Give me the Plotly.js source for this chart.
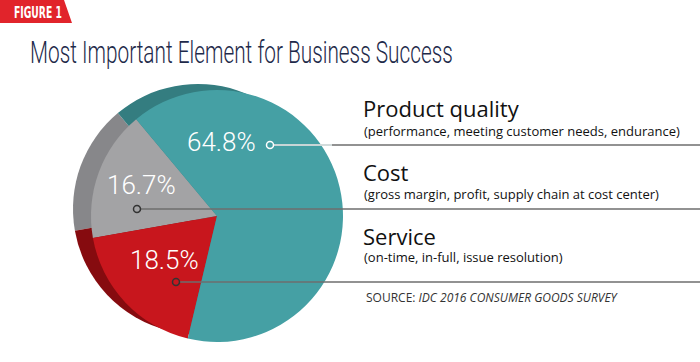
<!DOCTYPE html>
<html>
<head>
<meta charset="utf-8">
<script src="https://cdn.plot.ly/plotly-3.0.1.min.js"></script>
<style>html,body{margin:0;padding:0;background:#fff;}#chart{width:700px;height:362px;}</style>
</head>
<body>
<div id="chart"></div>
<script>
// ---- data ----
const categories = ['Cost', 'Service', 'Product quality'];
const shares = [16.7, 18.5, 64.8];
const descriptions = [
  '(gross margin, profit, supply chain at cost center)',
  '(on-time, in-full, issue resolution)',
  '(performance, meeting customer needs, endurance)'
];
const faceColors = ['#a3a3a5', '#c8161d', '#45a0a4'];
const sideColors = ['#87878a', '#860b0f', '#347d80'];
const titleText = 'Most Important Element for Business Success';
const sourceLabel = 'SOURCE: ';
const sourceText = 'IDC 2016 CONSUMER GOODS SURVEY';
const figureTag = 'FIGURE 1';

// ---- helpers (pixel -> paper) ----
const W = 700, H = 362;
const px = x => x / W;
const py = y => 1 - y / H;

function pieDomain(cx, cy, r) {
  return { x: [px(cx - r), px(cx + r)], y: [py(cy + r), py(cy - r)] };
}

const common = {
  type: 'pie', labels: categories, values: shares, sort: false,
  direction: 'counterclockwise', rotation: -100, textinfo: 'none',
  hoverinfo: 'label+percent', showlegend: false
};

const backPie = Object.assign({}, common, {
  marker: { colors: sideColors, line: { width: 0 } },
  domain: pieDomain(198, 209, 125)
});
const frontPie = Object.assign({}, common, {
  marker: { colors: faceColors, line: { width: 0 } },
  domain: pieDomain(217, 216, 126)
});

// label positions (layout only)
const pctPos = { 'Product quality': [221, 142], 'Cost': [141, 185], 'Service': [164, 260] };
const dotPos = { 'Product quality': [270, 145], 'Cost': [137, 209], 'Service': [176, 282] };
const rightTitleY = { 'Product quality': 108, 'Cost': 172, 'Service': 236 };
const rightDescY = { 'Product quality': 131, 'Cost': 194, 'Service': 257 };
const dotStyle = { 'Product quality': ['#ffffff', '#45a0a4'], 'Cost': ['#333333', '#a3a3a5'], 'Service': ['#333333', '#c8161d'] };

const annotations = [];
const shapes = [];

// figure tag
shapes.push({ type: 'path', xref: 'paper', yref: 'paper',
  path: `M ${px(0)} ${py(0)} L ${px(64)} ${py(0)} L ${px(72)} ${py(23)} L ${px(0)} ${py(23)} Z`,
  fillcolor: '#e1242b', line: { width: 0 }, layer: 'below' });
annotations.push({ text: '<b>' + figureTag + '</b>', x: px(12), y: py(13), xref: 'paper', yref: 'paper',
  xanchor: 'left', yanchor: 'middle', showarrow: false,
  font: { family: 'DejaVu Sans', size: 16, color: '#ffffff' } });

categories.forEach((c, i) => {
  const pct = shares[i].toFixed(1) + '%';
  const [tx, ty] = pctPos[c];
  annotations.push({ text: pct, x: px(tx), y: py(ty), xref: 'paper', yref: 'paper',
    xanchor: 'center', yanchor: 'middle', showarrow: false,
    font: { family: 'Roboto', size: 26, color: '#ffffff', weight: 300 } });
  const [dx, dy] = dotPos[c];
  shapes.push({ type: 'line', xref: 'paper', yref: 'paper', x0: px(dx), x1: px(700), y0: py(dy), y1: py(dy),
    line: { color: '#6e6e6e', width: 1.5 } });
  if (c === 'Product quality') {
    shapes.push({ type: 'line', xref: 'paper', yref: 'paper', x0: px(dx), x1: px(332), y0: py(dy), y1: py(dy),
      line: { color: '#e8f4f4', width: 1.5 } });
  }
  const [stroke, fill] = dotStyle[c];
  shapes.push({ type: 'circle', xref: 'paper', yref: 'paper', x0: px(dx - 3.5), x1: px(dx + 3.5), y0: py(dy - 3.5), y1: py(dy + 3.5),
    line: { color: stroke, width: 1.5 }, fillcolor: fill });
  annotations.push({ text: c, x: px(361), y: py(rightTitleY[c]), xref: 'paper', yref: 'paper',
    xanchor: 'left', yanchor: 'middle', showarrow: false,
    font: { family: 'Open Sans', size: 22, color: '#111111' } });
  annotations.push({ text: descriptions[i], x: px(362), y: py(rightDescY[c]), xref: 'paper', yref: 'paper',
    xanchor: 'left', yanchor: 'middle', showarrow: false,
    font: { family: 'Open Sans', size: 13, color: '#111111' } });
});

annotations.push({ text: sourceLabel + '<i>' + sourceText + '</i>', x: px(364), y: py(297), xref: 'paper', yref: 'paper',
  xanchor: 'left', yanchor: 'middle', showarrow: false,
  font: { family: 'Open Sans', size: 12, color: '#333333' } });

const layout = {
  width: W, height: H, margin: { l: 0, r: 0, t: 0, b: 0 },
  paper_bgcolor: '#ffffff', plot_bgcolor: '#ffffff',
  title: { text: titleText, x: px(30), xanchor: 'left', xref: 'paper', y: py(52), yref: 'paper', yanchor: 'middle',
    font: { family: 'Roboto', size: 31, color: '#1e2a4a', weight: 300 } },
  shapes: shapes, annotations: annotations
};

// condense a text element horizontally to a target width, keeping its left edge
function condense(el, targetWidth) {
  if (!el) return;
  const bb = el.getBBox();
  if (!bb.width) return;
  const s = targetWidth / bb.width;
  const prev = el.getAttribute('transform') || '';
  el.setAttribute('transform', prev + ` translate(${bb.x},0) scale(${s},1) translate(${-bb.x},0)`);
}

Plotly.newPlot('chart', [backPie, frontPie], layout, { displayModeBar: false, staticPlot: true }).then(gd => {
  condense(gd.querySelector('.gtitle'), 423);
  const texts = gd.querySelectorAll('.annotation-text');
  texts.forEach(t => { if (t.textContent === figureTag) condense(t, 48); });
});
</script>
</body>
</html>
